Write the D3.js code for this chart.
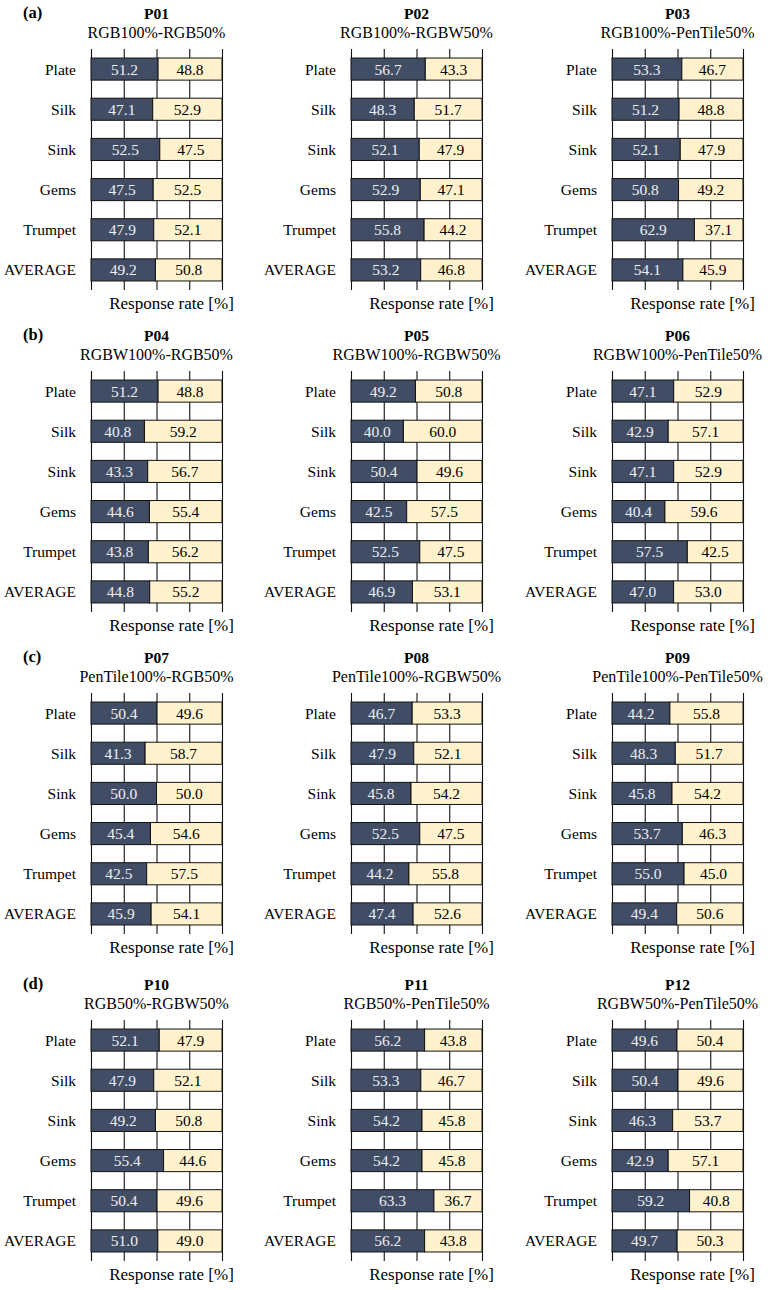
<!DOCTYPE html>
<html>
<head>
<meta charset="utf-8">
<script src="https://cdn.jsdelivr.net/npm/d3@7"></script>
<style>
  body { margin: 0; background: #fff; }
  svg text { font-family: "Liberation Serif", "Times New Roman", serif; }
</style>
</head>
<body>
<div class="chart"></div>
<script>
// Data
var categories = ["Plate", "Silk", "Sink", "Gems", "Trumpet", "AVERAGE"];
var groupLabels = ["(a)", "(b)", "(c)", "(d)"];
var panelIds = ["P01", "P02", "P03", "P04", "P05", "P06", "P07", "P08", "P09", "P10", "P11", "P12"];
var panelTitles = [
  "RGB100%-RGB50%", "RGB100%-RGBW50%", "RGB100%-PenTile50%",
  "RGBW100%-RGB50%", "RGBW100%-RGBW50%", "RGBW100%-PenTile50%",
  "PenTile100%-RGB50%", "PenTile100%-RGBW50%", "PenTile100%-PenTile50%",
  "RGB50%-RGBW50%", "RGB50%-PenTile50%", "RGBW50%-PenTile50%"
];
// first display (dark) response rate per category
var firstRates = [
  [51.2, 47.1, 52.5, 47.5, 47.9, 49.2],
  [56.7, 48.3, 52.1, 52.9, 55.8, 53.2],
  [53.3, 51.2, 52.1, 50.8, 62.9, 54.1],
  [51.2, 40.8, 43.3, 44.6, 43.8, 44.8],
  [49.2, 40.0, 50.4, 42.5, 52.5, 46.9],
  [47.1, 42.9, 47.1, 40.4, 57.5, 47.0],
  [50.4, 41.3, 50.0, 45.4, 42.5, 45.9],
  [46.7, 47.9, 45.8, 52.5, 44.2, 47.4],
  [44.2, 48.3, 45.8, 53.7, 55.0, 49.4],
  [52.1, 47.9, 49.2, 55.4, 50.4, 51.0],
  [56.2, 53.3, 54.2, 54.2, 63.3, 56.2],
  [49.6, 50.4, 46.3, 42.9, 59.2, 49.7]
];
// second display (light) response rate per category
var secondRates = [
  [48.8, 52.9, 47.5, 52.5, 52.1, 50.8],
  [43.3, 51.7, 47.9, 47.1, 44.2, 46.8],
  [46.7, 48.8, 47.9, 49.2, 37.1, 45.9],
  [48.8, 59.2, 56.7, 55.4, 56.2, 55.2],
  [50.8, 60.0, 49.6, 57.5, 47.5, 53.1],
  [52.9, 57.1, 52.9, 59.6, 42.5, 53.0],
  [49.6, 58.7, 50.0, 54.6, 57.5, 54.1],
  [53.3, 52.1, 54.2, 47.5, 55.8, 52.6],
  [55.8, 51.7, 54.2, 46.3, 45.0, 50.6],
  [47.9, 52.1, 50.8, 44.6, 49.6, 49.0],
  [43.8, 46.7, 45.8, 45.8, 36.7, 43.8],
  [50.4, 49.6, 53.7, 57.1, 40.8, 50.3]
];
var xTicks = [0, 25, 50, 75, 100];

var svgWidth = 772;
var svgHeight = 1290;

// layout of the 4x3 grid
var rowTop = [0, 322, 644, 971];
var colLeft = [91, 351, 612];
var plotW = 131;
var plotTop = 49, plotBottom = 290;

var darkColor = "#414d65";
var lightColor = "#fff2cc";

var svg = d3.select(".chart")
  .append("svg")
  .attr("width", svgWidth)
  .attr("height", svgHeight);

var x = d3.scaleLinear().domain([0, 100]).range([0, plotW]);
var y = d3.scaleBand()
  .domain(categories)
  .range([0, plotBottom - plotTop])
  .paddingInner(0.45)
  .paddingOuter(0.225);

// group labels (a)..(d)
groupLabels.forEach(function(lab, r) {
  svg.append("text")
    .attr("x", 23)
    .attr("y", rowTop[r] + 18)
    .attr("font-size", 16.5)
    .attr("font-weight", "bold")
    .attr("fill", "#000")
    .text(lab);
});

panelIds.forEach(function(id, i) {
  var r = Math.floor(i / 3), c = i % 3;
  var g = svg.append("g")
    .attr("transform", "translate(" + colLeft[c] + "," + (rowTop[r] + plotTop) + ")");
  var cx = plotW / 2;

  // titles
  g.append("text")
    .attr("x", cx).attr("y", 19 - plotTop)
    .attr("text-anchor", "middle")
    .attr("font-size", 15.5)
    .attr("font-weight", "bold")
    .attr("fill", "#000")
    .text(id);
  g.append("text")
    .attr("x", cx).attr("y", 37.5 - plotTop)
    .attr("text-anchor", "middle")
    .attr("font-size", 16)
    .attr("fill", "#000")
    .text(panelTitles[i]);

  // vertical grid lines
  var grid = d3.axisBottom(x)
    .tickValues(xTicks)
    .tickSizeInner(-(plotBottom - plotTop))
    .tickSizeOuter(0)
    .tickFormat("");
  var gg = g.append("g")
    .attr("transform", "translate(0," + (plotBottom - plotTop) + ")")
    .call(grid);
  gg.select(".domain").remove();
  gg.selectAll("line").attr("stroke", "#111").attr("stroke-width", 1.1);

  var rows = categories.map(function(cat, k) {
    return { cat: cat, a: firstRates[i][k], b: secondRates[i][k] };
  });

  // dark segment
  g.selectAll(".barA")
    .data(rows)
    .enter().append("rect")
    .attr("x", x(0))
    .attr("y", function(d) { return y(d.cat); })
    .attr("width", function(d) { return x(d.a) - x(0); })
    .attr("height", y.bandwidth())
    .attr("fill", darkColor)
    .attr("stroke", "#111")
    .attr("stroke-width", 1);

  // light segment
  g.selectAll(".barB")
    .data(rows)
    .enter().append("rect")
    .attr("x", function(d) { return x(d.a); })
    .attr("y", function(d) { return y(d.cat); })
    .attr("width", function(d) { return x(d.a + d.b) - x(d.a); })
    .attr("height", y.bandwidth())
    .attr("fill", lightColor)
    .attr("stroke", "#111")
    .attr("stroke-width", 1);

  // value labels
  g.selectAll(".labA")
    .data(rows)
    .enter().append("text")
    .attr("x", function(d) { return x(d.a / 2); })
    .attr("y", function(d) { return y(d.cat) + y.bandwidth() / 2; })
    .attr("dy", "0.35em")
    .attr("text-anchor", "middle")
    .attr("font-size", 15.5)
    .attr("fill", "#eef0f4")
    .text(function(d) { return d.a.toFixed(1); });

  g.selectAll(".labB")
    .data(rows)
    .enter().append("text")
    .attr("x", function(d) { return x(d.a + d.b / 2); })
    .attr("y", function(d) { return y(d.cat) + y.bandwidth() / 2; })
    .attr("dy", "0.35em")
    .attr("text-anchor", "middle")
    .attr("font-size", 15.5)
    .attr("fill", "#000")
    .text(function(d) { return d.b.toFixed(1); });

  // category labels
  g.selectAll(".cat")
    .data(categories)
    .enter().append("text")
    .attr("x", -15)
    .attr("y", function(d) { return y(d) + y.bandwidth() / 2; })
    .attr("dy", "0.35em")
    .attr("text-anchor", "end")
    .attr("font-size", 15.5)
    .attr("fill", "#000")
    .text(function(d) { return d; });

  // axis title
  g.append("text")
    .attr("x", cx + 15)
    .attr("y", 309 - plotTop)
    .attr("text-anchor", "middle")
    .attr("font-size", 17)
    .attr("fill", "#000")
    .text("Response rate [%]");
});
</script>
</body>
</html>
